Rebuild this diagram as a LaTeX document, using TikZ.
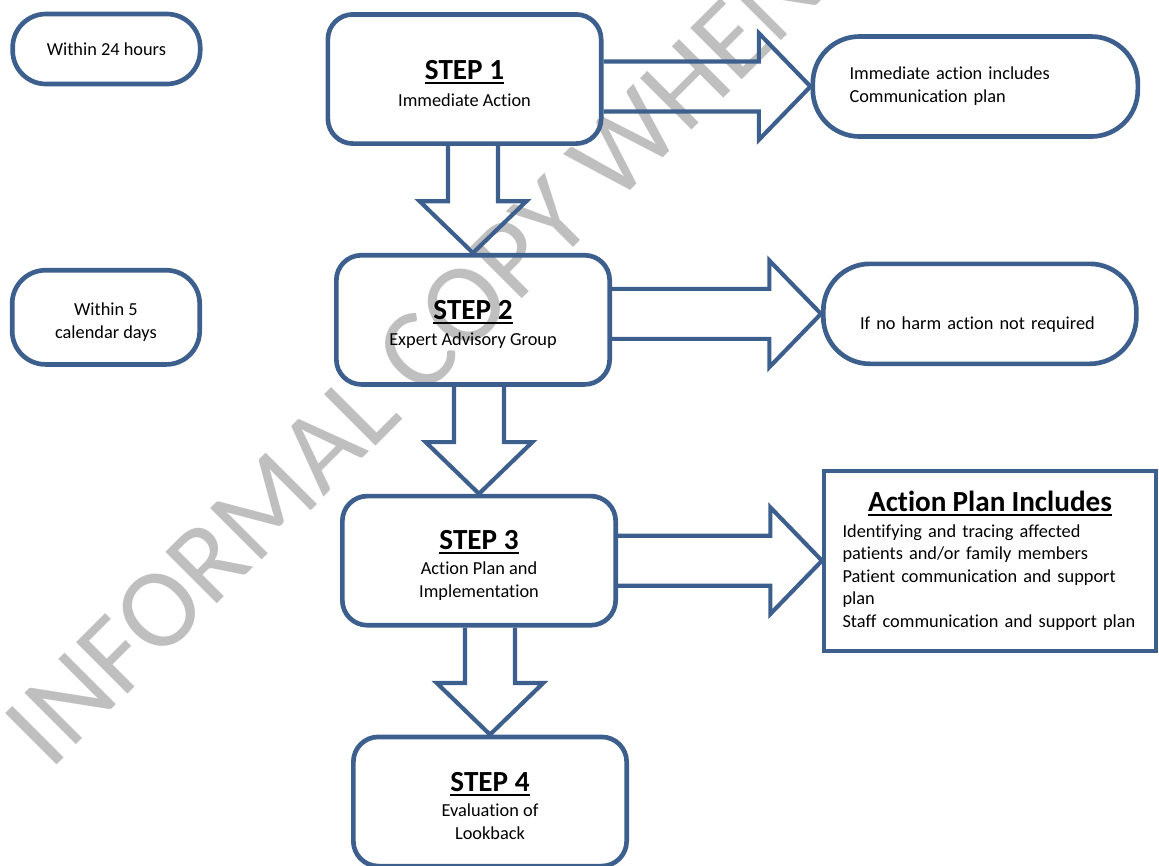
\documentclass[tikz,border=0pt]{standalone}
\usepackage{fontspec}
\setmainfont{Carlito}[Ligatures=NoCommon]
\usepackage{xcolor}
\usetikzlibrary{positioning, calc}

\definecolor{flowblue}{RGB}{60,95,142}
\definecolor{markgray}{RGB}{191,191,191}

\newcommand{\headline}[1]{\setbox0\hbox{#1}\rlap{\rule[-2.6pt]{\wd0}{1.2pt}}\box0}
\newcommand{\headfont}{\fontsize{17.5}{21}\bfseries}
\newcommand{\steptitle}[1]{{\headfont\rule{0pt}{17pt}\headline{#1}}}

\begin{document}
\begin{tikzpicture}[
			x=0.6pt, y=-0.6pt,
			node distance=64.2pt,
			step_node/.style={
				rectangle,
				rounded corners=15pt,
				draw=flowblue,
				line width=2.8pt,
				minimum width=164pt,
				minimum height=77.5pt,
				align=center,
				font=\fontsize{11}{13.8}\selectfont
			},
			time_node/.style={
				rectangle,
				rounded corners=20pt,
				draw=flowblue,
				line width=2.8pt,
				minimum width=112.5pt,
				minimum height=42pt,
				align=center,
				font=\fontsize{11}{13.8}\selectfont
			},
			info_node/.style={
				rectangle,
				rounded corners=28pt,
				draw=flowblue,
				line width=2.8pt,
				minimum height=60pt,
				inner xsep=22pt,
				align=left,
				font=\fontsize{11}{13.8}\selectfont
			},
			plan_node/.style={
				rectangle,
				draw=flowblue,
				line width=2.4pt,
				text width=177pt,
				inner xsep=11.1pt,
				minimum height=108pt,
				align=left,
				font=\fontsize{11}{13.5}\selectfont
			},
			watermark/.style={
				text=markgray,
				inner sep=0pt,
				font=\fontsize{68}{70}\selectfont
			},
			right_arrow/.style={
				draw=flowblue,
				line width=2.5pt,
				to path={let \p1=(\tikztostart.east |- \tikztotarget.west), \p2=(\tikztotarget.west) in
					(\x1,\y1+15pt) -- (\x2-31pt,\y1+15pt) -- (\x2-31pt,\y1+32pt) -- (\x2,\y1)
					-- (\x2-31pt,\y1-32pt) -- (\x2-31pt,\y1-15pt) -- (\x1,\y1-15pt)}
			},
			down_arrow/.style={
				draw=flowblue,
				line width=2.5pt,
				to path={let \p1=(\tikztotarget.north |- \tikztostart.south), \p2=(\tikztotarget.north) in
					(\x1-15pt,\y1) -- (\x1-15pt,\y2+31pt) -- (\x1-32pt,\y2+31pt) -- (\x2,\y2)
					-- (\x1+32pt,\y2+31pt) -- (\x1+15pt,\y2+31pt) -- (\x1+15pt,\y1)}
			}
			]
			
			\useasboundingbox (0,0) rectangle (1159,865);
			
			% Watermark
			
			\node [watermark, rotate=45] (mark) at (413,357) {INFORMAL COPY WHEN};
			
			% Steps
			
			\node [step_node] (s1) at (464.5,79) {\steptitle{STEP 1}\\[2pt]Immediate Action};
			\node [step_node, below=of s1, xshift=5.1pt] (s2) {\steptitle{STEP 2}\\[2pt]Expert Advisory Group};
			\node [step_node, below=of s2, xshift=3.6pt] (s3) {\steptitle{STEP 3}\\[1pt]Action Plan and\\Implementation};
			\node [step_node, below=of s3, xshift=6.6pt] (s4) {\steptitle{STEP 4}\\[1pt]Evaluation of\\Lookback};
			
			% Time frames
			
			\node [time_node, left=73.8pt of s1, yshift=18pt] (t1) {Within 24 hours};
			\node [time_node, minimum height=56.5pt, left=79.2pt of s2, yshift=1.5pt] (t2) {\rule{0pt}{13pt}Within 5\\calendar days};
			
			% Outcomes
			
			\node [info_node, text width=151pt, right=124.2pt of s1, yshift=-4.5pt] (r1) {Immediate action includes\\Communication plan};
			\node [info_node, text width=143.8pt, right=125.4pt of s2, yshift=3.6pt] (r2) {\raisebox{-6.6pt}[\height][\depth]{If no harm action not required}};
			\node [plan_node, right=122.4pt of s3] (plan) {\makebox[\linewidth]{\headfont\headline{Action Plan Includes}}\\[2pt]
				Identifying and tracing affected\\patients and/or family members\\Patient communication and support\\plan\\Staff communication and support plan};
			
			% Connections
			
			\draw [right_arrow] (s1) to (r1);
			\draw [right_arrow] (s2) to (r2);
			\draw [right_arrow] (s3) to (plan);
			
			\draw [down_arrow] (s1) to (s2);
			\draw [down_arrow] (s2) to (s3);
			\draw [down_arrow] (s3) to (s4);
			
		\end{tikzpicture}
\end{document}
